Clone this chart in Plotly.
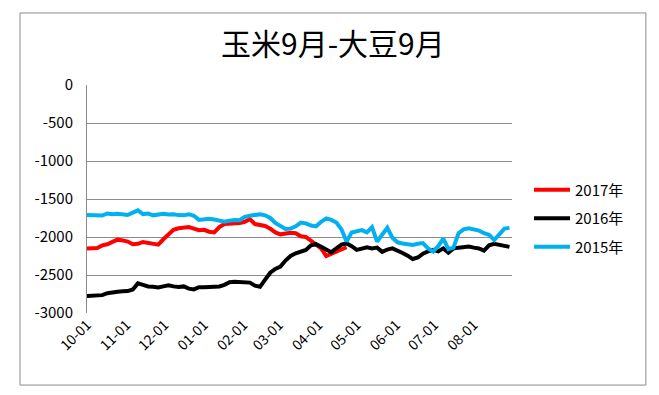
import pandas as pd
import plotly.graph_objects as go

# Season dates (4-day sampling starting Oct 1), reference season year 2016/17
dates = pd.date_range("2016-10-01", periods=84, freq="4D")

s2017 = [-2150, -2150, -2145, -2110, -2095, -2065, -2035, -2045, -2060, -2095,
         -2090, -2065, -2075, -2095, -2100, -2030, -1975, -1905, -1885, -1880,
         -1870, -1890, -1910, -1905, -1930, -1940, -1870, -1830, -1825, -1825,
         -1815, -1800, -1765, -1830, -1845, -1855, -1890, -1940, -1965, -1950,
         -1945, -1950, -1990, -2000, -2050, -2085, -2150, -2250, -2220, -2195,
         -2160, -2135]

s2016 = [-2777, -2777, -2777, -2765, -2740, -2725, -2720, -2715, -2712, -2690,
         -2610, -2630, -2650, -2655, -2665, -2650, -2635, -2650, -2658, -2650,
         -2680, -2690, -2660, -2660, -2655, -2655, -2650, -2630, -2595, -2590,
         -2590, -2592, -2600, -2640, -2655, -2560, -2470, -2420, -2390, -2310,
         -2250, -2215, -2190, -2170, -2110, -2095, -2130, -2160, -2200, -2150,
         -2100, -2085, -2120, -2170, -2150, -2135, -2150, -2140, -2195, -2165,
         -2150, -2175, -2210, -2245, -2290, -2270, -2220, -2190, -2170, -2190,
         -2150, -2205, -2150, -2140, -2135, -2125, -2140, -2150, -2180, -2110,
         -2090, -2100, -2120, -2130]

s2015 = [-1711, -1715, -1722, -1718, -1690, -1700, -1695, -1705, -1710, -1680,
         -1650, -1700, -1690, -1715, -1700, -1695, -1705, -1700, -1712, -1715,
         -1700, -1720, -1775, -1770, -1760, -1770, -1790, -1800, -1785, -1775,
         -1780, -1735, -1720, -1710, -1700, -1715, -1750, -1815, -1850, -1895,
         -1890, -1860, -1810, -1820, -1850, -1860, -1800, -1755, -1775, -1810,
         -1900, -2060, -1940, -1920, -1910, -1940, -1870, -2060, -1980, -1880,
         -2010, -2070, -2085, -2090, -2105, -2090, -2080, -2150, -2190, -2120,
         -2020, -2160, -2140, -1950, -1900, -1885, -1905, -1915, -1950, -1970,
         -2040, -1955, -1890, -1880]

series_names = ["2017年", "2016年", "2015年"]
series_colors = ["#FF0000", "#000000", "#00B0F0"]
y_ticks = [0, -500, -1000, -1500, -2000, -2500, -3000]
y_tick_text = ["0", "-500", "-1000", "-1500", "-2000", "-2500", "-3000"]
title_text = "玉米9月-大豆9月"

fig = go.Figure()
for name, vals, col in zip(series_names, [s2017, s2016, s2015], series_colors):
    fig.add_trace(go.Scatter(
        x=dates[:len(vals)], y=vals, mode="lines", name=name,
        legendgroup=name,
        line=dict(color=col, width=4),
    ))

font_family = "Noto Sans CJK SC, Noto Sans, sans-serif"

# page body has an 8px margin; figure is sized/offset to compensate
fig.update_layout(
    width=651, height=387,
    margin=dict(l=79, r=147, t=77, b=82),
    paper_bgcolor="white", plot_bgcolor="white",
    showlegend=True,
    legend=dict(x=1.040, y=0.612, xanchor="left", yanchor="top",
                font=dict(family=font_family, size=15, color="#000000"),
                tracegroupgap=6, itemwidth=36, bgcolor="rgba(0,0,0,0)"),
    xaxis=dict(
        type="date",
        range=["2016-10-01", "2017-08-31"],
        tick0="2016-10-01", dtick="M1", tickformat="%m-%d",
        tickangle=-45, showgrid=False, zeroline=False,
        showline=False, ticks="",
        tickfont=dict(family=font_family, size=14, color="#000000"),
    ),
    yaxis=dict(
        range=[-3000, 0], tickvals=y_ticks, ticktext=y_tick_text,
        showgrid=True, gridcolor="#8C8C8C", gridwidth=1,
        zeroline=False, showline=True, linecolor="#8C8C8C", linewidth=1,
        ticks="", ticklabelstandoff=10,
        tickfont=dict(family=font_family, size=15, color="#000000"),
    ),
    annotations=[dict(
        text=title_text, xref="paper", yref="paper",
        x=0.579, y=1.189, xanchor="center", yanchor="middle",
        showarrow=False,
        font=dict(family=font_family, size=30, color="#000000"),
    )],
    shapes=[dict(
        type="rect", xref="paper", yref="paper",
        x0=-0.1576, x1=1.315, y0=-0.316, y1=1.316,
        line=dict(color="#8C8C8C", width=1), fillcolor="rgba(0,0,0,0)",
        layer="below",
    )],
)

fig.write_html("out.html")
